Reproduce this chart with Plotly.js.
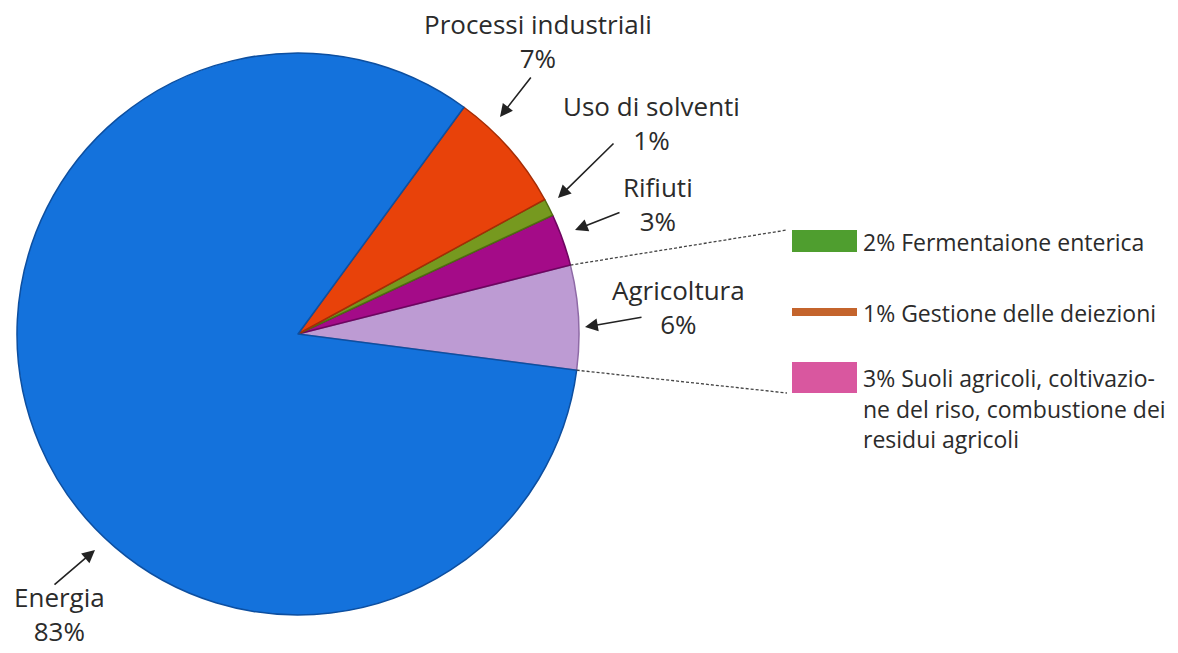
<!DOCTYPE html>
<html>
<head>
<meta charset="utf-8">
<script src="https://cdn.plot.ly/plotly-3.0.1.min.js"></script>
<style>html,body{margin:0;padding:0;background:#fff;}#chart{width:1178px;height:653px;}</style>
</head>
<body>
<div id="chart"></div>
<script>
// ---- data ----
const labels = ['Agricoltura', 'Rifiuti', 'Uso di solventi', 'Processi industriali', 'Energia'];
const values = [6, 3, 1, 7, 83];
const sliceColors = ['#bd9bd3', '#a40b88', '#76991f', '#e8420a', '#1472dc'];
const sliceLines = ['#8e6aa6', '#6e0560', '#4f6c10', '#a52c05', '#0d4fa0'];

const subLabels = ['Fermentaione enterica', 'Gestione delle deiezioni', 'Suoli agricoli, coltivazione del riso, combustione dei residui agricoli'];
const subValues = [2, 1, 3];
const subLines = [
  ['2% Fermentaione enterica'],
  ['1% Gestione delle deiezioni'],
  ['3% Suoli agricoli, coltivazio-', 'ne del riso, combustione dei', 'residui agricoli']
];
const subColors = ['#4f9e2f', '#c4642c', '#d9579f'];

// ---- layout geometry ----
const W = 1178, H = 653;
const cx = 298, cy = 334, R = 281;
const startAngle = 97.4; // lower edge of first slice, degrees clockwise from 12 o'clock
const total = values.reduce((a, b) => a + b, 0);
const rotation = startAngle - 360 * values[0] / total;
const font = "'Open Sans', 'Noto Sans', sans-serif";
const txt = '#2b2b2b';

const px = x => x / W;
const py = y => 1 - y / H;

const trace = {
  type: 'pie',
  labels: labels,
  values: values,
  sort: false,
  direction: 'counterclockwise',
  rotation: rotation,
  textinfo: 'none',
  hoverinfo: 'label+percent',
  showlegend: false,
  marker: { colors: sliceColors, line: { color: sliceLines, width: 1.5 } },
  domain: { x: [px(cx - R), px(cx + R)], y: [py(cy + R), py(cy - R)] }
};

// edges of the Agricoltura slice (computed from data)
const a0 = startAngle * Math.PI / 180;
const a1 = rotation * Math.PI / 180;
const edge = a => [cx + R * Math.sin(a), cy - R * Math.cos(a)];
const eLow = edge(a0), eHigh = edge(a1);

const annotations = [];
function label(i, x, y) {
  annotations.push({ text: labels[i] + '<br>' + values[i] + '%', x: px(x), y: py(y),
    xref: 'paper', yref: 'paper', showarrow: false, xanchor: 'center', yanchor: 'middle',
    align: 'center', borderpad: 0, font: { family: font, size: 26, color: txt } });
}
function arrow(hx, hy, tx, ty) {
  annotations.push({ text: '', x: px(hx), y: py(hy), xref: 'paper', yref: 'paper',
    showarrow: true, ax: tx - hx, ay: ty - hy, arrowhead: 2, arrowsize: 1.6,
    arrowwidth: 1.6, arrowcolor: '#222', standoff: 0, startstandoff: 0 });
}

label(3, 538, 41);
arrow(500, 117, 532, 76);
label(2, 651, 123);
arrow(558, 198, 615, 142);
label(1, 658, 204);
arrow(575, 230, 621, 212);
label(0, 678, 307);
arrow(585, 327, 643, 317);
label(4, 59, 614);
arrow(95, 550, 53, 586);

// sub-legend
const boxes = [[230, 252], [308, 316], [362, 393]];
const shapes = [];
boxes.forEach((b, i) => {
  shapes.push({ type: 'rect', xref: 'paper', yref: 'paper', x0: px(792), x1: px(857),
    y0: py(b[1]), y1: py(b[0]), fillcolor: subColors[i], line: { width: 0 } });
  subLines[i].forEach((ln, j) => {
    annotations.push({ text: ln, x: px(861), y: py((b[0] + b[1]) / 2 + 1 + j * 30),
      xref: 'paper', yref: 'paper', showarrow: false, xanchor: 'left', yanchor: 'middle',
      font: { family: font, size: 23, color: txt } });
  });
});
shapes.push({ type: 'line', xref: 'paper', yref: 'paper', x0: px(eHigh[0]), y0: py(eHigh[1]),
  x1: px(787), y1: py(230), line: { color: '#444', width: 1.3, dash: '3px,2px' } });
shapes.push({ type: 'line', xref: 'paper', yref: 'paper', x0: px(eLow[0]), y0: py(eLow[1]),
  x1: px(787), y1: py(393), line: { color: '#444', width: 1.3, dash: '3px,2px' } });

const layout = {
  width: W, height: H,
  margin: { l: 0, r: 0, t: 0, b: 0 },
  paper_bgcolor: '#ffffff',
  showlegend: false,
  annotations: annotations,
  shapes: shapes
};

Plotly.newPlot('chart', [trace], layout, { displayModeBar: false, staticPlot: true });
</script>
</body>
</html>
